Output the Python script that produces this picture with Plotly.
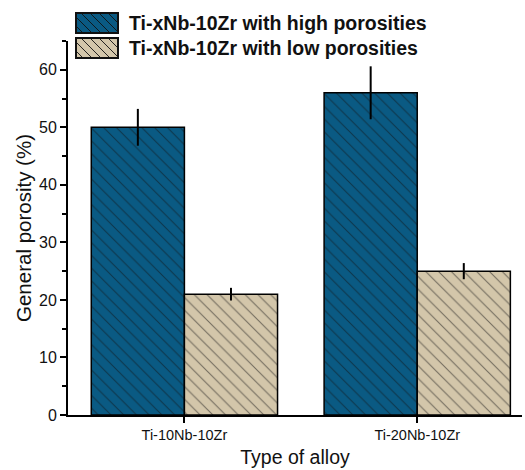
import base64
import plotly.graph_objects as go

alloys = ["Ti-10Nb-10Zr", "Ti-20Nb-10Zr"]
series_names = ["Ti-xNb-10Zr with high porosities", "Ti-xNb-10Zr with low porosities"]
high_porosity = [50, 56]
high_err = [3.2, 4.6]
low_porosity = [21, 25]
low_err = [1.1, 1.4]

blue = "#0a5a83"
tan = "#d3c6aa"

W, H = 525, 470
M = dict(l=68, r=3, t=41, b=55)
PW, PH = W - M["l"] - M["r"], H - M["t"] - M["b"]


def px_to_paper(px, py):
    return (px - M["l"]) / PW, (H - M["b"] - py) / PH


def hatch_swatch(color, w=44, h=22, step=9):
    """Small SVG legend key: filled box with '\\' hatching and a black border."""
    lines = []
    for k in range(-h, w + h, step):
        lines.append(f'<line x1="{k}" y1="0" x2="{k + h}" y2="{h}" stroke="#111" stroke-width="0.9"/>')
    svg = (f'<svg xmlns="http://www.w3.org/2000/svg" width="{w}" height="{h}" viewBox="0 0 {w} {h}">'
           f'<rect x="0" y="0" width="{w}" height="{h}" fill="{color}"/>'
           + "".join(lines) +
           f'<rect x="1" y="1" width="{w - 2}" height="{h - 2}" fill="none" stroke="#111" stroke-width="2"/>'
           '</svg>')
    return "data:image/svg+xml;base64," + base64.b64encode(svg.encode()).decode()


fig = go.Figure()
for name, vals, errs, col in [(series_names[0], high_porosity, high_err, blue),
                              (series_names[1], low_porosity, low_err, tan)]:
    fig.add_trace(go.Bar(
        x=alloys, y=vals, name=name, showlegend=False,
        marker=dict(color=col, line=dict(color="black", width=1.5),
                    pattern=dict(shape="\\", fgcolor="#111111", size=9, solidity=0.12)),
        error_y=dict(type="data", array=errs, color="black", thickness=2, width=0),
    ))

# Legend drawn as keys + bold labels above the plot area
images, annotations = [], []
for i, (name, col) in enumerate(zip(series_names, [blue, tan])):
    top = 12 + i * 25
    x0, y0 = px_to_paper(75, top)
    images.append(dict(source=hatch_swatch(col), xref="paper", yref="paper",
                       x=x0, y=y0, sizex=44 / PW, sizey=22 / PH,
                       xanchor="left", yanchor="top", sizing="stretch", layer="above"))
    tx, ty = px_to_paper(127, top + 11)
    annotations.append(dict(text=f"<b>{name}</b>", xref="paper", yref="paper",
                            x=tx, y=ty, xanchor="left", yanchor="middle", showarrow=False,
                            font=dict(size=19.5, family="Arial, Liberation Sans", color="#111111")))

fig.update_layout(
    width=W, height=H,
    margin=M,
    plot_bgcolor="white", paper_bgcolor="white",
    barmode="group", bargap=0.2, bargroupgap=0,
    font=dict(family="Arial, Liberation Sans, sans-serif", color="#111111"),
    showlegend=False,
    images=images,
    annotations=annotations,
)
fig.update_xaxes(
    range=[-0.5, 1.45], showline=True, linecolor="black", linewidth=2,
    ticks="outside", ticklen=6, tickwidth=1.5, tickcolor="black",
    tickfont=dict(size=14.5), showgrid=False, mirror=False,
    title=dict(text="Type of alloy", font=dict(size=19.5), standoff=8),
)
fig.update_yaxes(
    range=[0, 65], showline=True, linecolor="black", linewidth=2,
    ticks="outside", ticklen=6, tickwidth=1.5, tickcolor="black",
    dtick=10, tickfont=dict(size=16), showgrid=False, zeroline=False,
    minor=dict(ticks="outside", ticklen=4, tickwidth=1.5, tickcolor="black", dtick=5),
    title=dict(text="General porosity (%)", font=dict(size=20.5), standoff=2),
)

fig.write_html("out.html")
